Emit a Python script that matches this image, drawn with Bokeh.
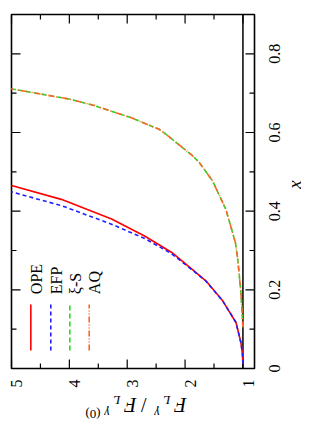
from math import pi
from bokeh.plotting import figure
from bokeh.models import Range1d
from bokeh.core.properties import value
from bokeh.embed import file_html
from bokeh.resources import INLINE

# ---------------- data (x = Bjorken x, r = F_L^gamma / F_L^gamma(0)) ----------------
ope_x = [0.012, 0.040, 0.066, 0.117, 0.172, 0.223, 0.244, 0.295, 0.337, 0.380, 0.430, 0.465]
ope_r = [1.000, 1.010, 1.035, 1.120, 1.350, 1.640, 1.810, 2.230, 2.700, 3.270, 4.140, 5.000]

efp_x = [0.012, 0.040, 0.066, 0.117, 0.172, 0.223, 0.244, 0.292, 0.3305, 0.367, 0.414, 0.449]
efp_r = [1.000, 1.010, 1.035, 1.120, 1.350, 1.645, 1.820, 2.235, 2.696, 3.272, 4.136, 5.000]

xis_x = [0.105, 0.193, 0.278, 0.320, 0.346, 0.405, 0.477, 0.524, 0.541, 0.596, 0.608, 0.638, 0.670, 0.685, 0.711]
xis_r = [1.000, 1.035, 1.090, 1.130, 1.180, 1.296, 1.526, 1.756, 1.872, 2.333, 2.447, 2.938, 3.600, 4.003, 5.000]

aq_x = [0.105, 0.193, 0.278, 0.320, 0.346, 0.405, 0.477, 0.524, 0.541, 0.596, 0.608, 0.638, 0.670, 0.685, 0.711]
aq_r = [1.000, 1.035, 1.090, 1.130, 1.180, 1.296, 1.526, 1.756, 1.872, 2.333, 2.447, 2.938, 3.600, 4.003, 5.000]

series_names = ["OPE", "EFP", "\u03be-S", "AQ"]
r_ticks = [1, 2, 3, 4, 5]
r_tick_labels = ["1", "2", "3", "4", "5"]
r_minor = [1.5, 2.5, 3.5, 4.5]
x_ticks = [0, 0.2, 0.4, 0.6, 0.8]
x_tick_labels = ["0", "0.2", "0.4", "0.6", "0.8"]
x_minor = [0.1, 0.3, 0.5, 0.7, 0.9]
reference_ratio = 1.0

# ---------------- styles / geometry ----------------
colors = ["#ff0000", "#2020ff", "#22dd22", "#ff6428"]
dashes = ["solid", "4 3", "5 3", "6 2 1 2 1 2"]
SERIF = "Liberation Serif"

R_LEFT, R_RIGHT = 5.0, 0.8        # plotted range of the ratio (runs right-to-left)
X_BOTTOM, X_TOP = 0.0, 0.9        # plotted range of x (bottom-to-top)
FIG_W, FIG_H = 301, 423           # figure size (px)
BOX_L, BOX_T, BOX_W, BOX_H = 11, 14, 243, 354   # plot box inside the figure (px)
MAJ, MIN = 9, 5                   # tick lengths (px)
CAP16 = 5.3                       # half cap height of 16px serif text (px)

k_r = BOX_W / (R_LEFT - R_RIGHT)  # px per ratio unit
k_x = BOX_H / (X_TOP - X_BOTTOM)  # px per x unit
view_r0 = R_LEFT + BOX_L / k_r
view_x1 = X_TOP + BOX_T / k_x

p = figure(width=FIG_W, height=FIG_H, min_border=0,
           x_range=Range1d(view_r0, view_r0 - FIG_W / k_r),
           y_range=Range1d(view_x1 - FIG_H / k_x, view_x1),
           x_axis_location=None, y_axis_location=None,
           output_backend="svg", toolbar_location=None)
p.background_fill_color = "white"
p.border_fill_color = "white"
p.outline_line_color = None
p.grid.visible = False


def r_at(fx):   # figure pixel column -> ratio value
    return view_r0 - fx / k_r


def x_at(fy):   # figure pixel row -> x value
    return view_x1 - fy / k_x


# plot box
p.quad(left=[R_LEFT], right=[R_RIGHT], bottom=[X_BOTTOM], top=[X_TOP],
       fill_color=None, line_color="black", line_width=1.6)

# ticks on all four sides, pointing inwards
tick_style = dict(line_color="black", line_width=1.2)
for ticks, length in [(r_ticks, MAJ), (r_minor, MIN)]:
    n = len(ticks)
    p.segment(x0=ticks, y0=[X_BOTTOM] * n, x1=ticks, y1=[X_BOTTOM + length / k_x] * n, **tick_style)
    p.segment(x0=ticks, y0=[X_TOP] * n, x1=ticks, y1=[X_TOP - length / k_x] * n, **tick_style)
for ticks, length in [(x_ticks, MAJ), (x_minor, MIN)]:
    n = len(ticks)
    p.segment(x0=[R_RIGHT] * n, y0=ticks, x1=[R_RIGHT + length / k_r] * n, y1=ticks, **tick_style)
    p.segment(x0=[R_LEFT] * n, y0=ticks, x1=[R_LEFT - length / k_r] * n, y1=ticks, **tick_style)

# tick labels (rotated, reading bottom-to-top; baseline placed so the digits are centred)
label_style = dict(angle=pi / 2, text_font=value(SERIF), text_font_size="16px",
                   text_color="black", text_align="center", text_baseline="alphabetic")
p.text(x=[t - CAP16 / k_r for t in r_ticks], y=[x_at(BOX_T + BOX_H + 15)] * len(r_ticks),
       text=r_tick_labels, **label_style)
p.text(x=[r_at(BOX_L + BOX_W + 15 + CAP16)] * len(x_ticks), y=x_ticks,
       text=x_tick_labels, **label_style)

# line at ratio = 1
p.segment(x0=[reference_ratio], y0=[X_BOTTOM], x1=[reference_ratio], y1=[X_TOP],
          line_color="black", line_width=1.5)

# curves
for xs, rs, c, d in [(ope_x, ope_r, colors[0], dashes[0]), (efp_x, efp_r, colors[1], dashes[1]),
                     (xis_x, xis_r, colors[2], dashes[2]), (aq_x, aq_r, colors[3], dashes[3])]:
    p.line(rs, xs, line_color=c, line_width=1.6, line_dash=d)

# legend (vertical samples with rotated text)
leg_r = [4.666, 4.321, 3.992, 3.657]
for i, name in enumerate(series_names):
    p.segment(x0=[leg_r[i]], y0=[0.046], x1=[leg_r[i]], y1=[0.163],
              line_color=colors[i], line_width=1.6, line_dash=dashes[i])
    p.text(x=[leg_r[i] - CAP16 / k_r], y=[0.189], text=[name], angle=pi / 2,
           text_font=value(SERIF), text_font_size="16px", text_color="black",
           text_align="left", text_baseline="alphabetic")

# axis title "x" on the right (reads bottom-to-top)
p.text(x=[r_at(294)], y=[x_at(184)], text=["x"], angle=pi / 2,
       text_font=value(SERIF), text_font_size="19px", text_font_style="italic",
       text_color="black", text_align="center", text_baseline="alphabetic")

# axis title below, upside down: F_L^γ / F_L^γ(0)
title_pieces = [("F", 186, 404, "20px", "italic"), ("L", 170, 400, "13px", "italic"),
                ("\u03b3", 159, 413, "13px", "italic"), ("/", 146, 404, "20px", "normal"),
                ("F", 136, 404, "20px", "italic"), ("L", 120, 400, "13px", "italic"),
                ("\u03b3", 109, 413, "13px", "italic"), ("(0)", 100, 414, "13px", "normal")]
for txt, fx, fy, size, style in title_pieces:
    p.text(x=[r_at(fx)], y=[x_at(fy)], text=[txt], angle=pi,
           text_font=value(SERIF), text_font_size=size, text_font_style=style,
           text_color="black", text_align="left", text_baseline="alphabetic")

open("out.html", "w").write(file_html(p, INLINE))
